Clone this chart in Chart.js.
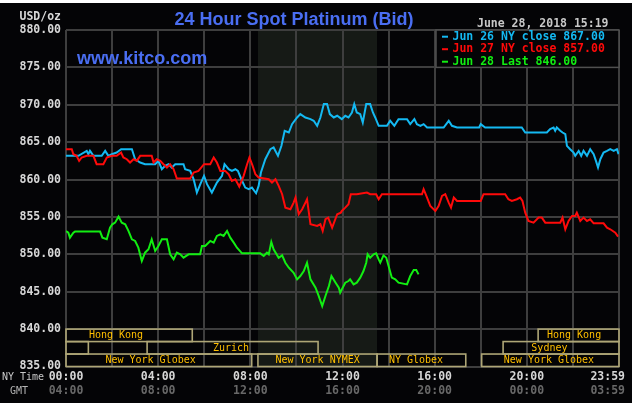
<!DOCTYPE html>
<html><head><meta charset="utf-8">
<script src="https://cdn.jsdelivr.net/npm/chart.js@4"></script>
<style>html,body{margin:0;padding:0;background:#040406;}canvas{display:block}</style>
</head><body>
<canvas id="c" width="632" height="403"></canvas>
<script>
// ---- data (hours since 00:00 NY time, price USD/oz) ----
const jun26Hours = [0,0.54,0.90,0.97,1.04,1.19,1.55,1.70,1.84,1.99,2.20,2.39,2.86,3.00,3.22,3.43,3.87,4.01,4.16,4.30,4.45,4.59,4.74,5.10,5.17,5.39,5.54,5.68,5.83,5.99,6.12,6.33,6.55,6.77,6.88,7.06,7.20,7.35,7.46,7.61,7.78,7.93,8.07,8.25,8.36,8.46,8.65,8.87,9.01,9.20,9.35,9.49,9.67,9.81,10.03,10.17,10.39,10.61,10.75,10.90,11.04,11.19,11.33,11.45,11.62,11.77,11.97,12.12,12.26,12.41,12.51,12.62,12.77,12.88,13.03,13.20,13.32,13.42,13.57,13.93,14.07,14.25,14.43,14.80,14.94,15.12,15.23,15.38,15.52,15.67,16.39,16.61,16.75,16.97,17.93,18.00,18.19,19.78,19.93,20.87,21.01,21.16,21.23,21.30,21.45,21.55,21.67,21.74,21.88,22.03,22.10,22.25,22.36,22.46,22.61,22.75,22.90,23.00,23.09,23.19,23.33,23.48,23.62,23.77,23.91,23.98];
const jun26Prices = [863.17,863.17,863.84,863.39,863.84,863.17,863.17,863.84,863.17,863.39,863.62,864.06,864.06,862.72,862.28,862.05,862.05,862.50,861.38,861.83,862.05,861.61,862.05,862.05,861.38,861.16,860.04,858.26,859.38,860.49,859.38,858.26,859.60,860.49,862.05,861.38,861.16,861.38,861.16,860.04,858.93,858.71,858.93,858.17,859.15,860.94,862.72,864.06,864.29,863.17,864.51,866.52,866.29,867.41,868.30,868.75,868.30,868.08,867.86,867.19,868.30,870.09,870.09,868.75,868.30,868.53,868.08,868.53,868.30,868.97,870.09,868.97,868.75,867.63,870.09,870.09,868.97,868.30,867.19,867.19,867.86,867.19,868.08,868.08,867.41,868.08,867.41,867.19,867.41,866.96,866.96,867.86,867.19,866.96,866.96,867.41,866.96,866.96,866.29,866.29,866.74,866.96,866.52,866.96,866.52,866.29,866.07,864.51,864.06,863.62,863.17,863.84,863.17,863.84,863.17,864.06,863.39,862.50,861.61,862.72,863.62,863.84,864.06,863.84,864.06,863.39];

const jun27Hours = [0,0.25,0.32,0.46,0.57,0.68,0.90,1.19,1.33,1.62,1.77,1.99,2.20,2.39,2.49,2.64,2.78,2.93,3.07,3.22,3.72,3.80,3.94,4.09,4.23,4.38,4.52,4.67,4.81,5.39,5.54,5.75,5.99,6.26,6.41,6.55,6.70,6.91,7.06,7.20,7.35,7.52,7.71,7.86,7.96,8.10,8.22,8.36,8.80,8.94,9.09,9.23,9.38,9.52,9.74,9.88,9.96,10.10,10.25,10.39,10.46,10.61,10.90,11.04,11.14,11.26,11.38,11.55,11.77,11.93,11.97,12.12,12.26,12.36,12.62,13.06,13.20,13.46,13.57,13.71,15.45,15.52,15.64,15.81,16.03,16.17,16.32,16.46,16.61,16.71,16.83,16.97,17.93,18.00,18.12,19.06,19.20,19.35,19.57,19.71,19.81,19.93,20.07,20.29,20.51,20.65,20.80,21.45,21.55,21.67,21.81,21.96,22.10,22.17,22.32,22.46,22.61,22.75,22.90,23.33,23.48,23.62,23.84,23.96];
const jun27Prices = [864.06,864.06,863.39,863.17,862.50,862.95,863.17,863.17,862.05,862.05,862.95,863.17,863.17,863.62,862.95,862.72,862.28,862.72,862.50,863.17,863.17,862.28,862.72,862.50,862.05,861.61,862.05,861.38,860.13,860.13,860.94,861.16,862.05,862.05,862.95,862.28,861.16,861.16,860.71,859.82,860.04,859.06,860.49,862.05,862.95,861.83,860.71,860.27,860.04,859.60,860.04,859.15,858.04,856.25,856.03,856.92,857.59,855.36,856.03,856.92,857.37,854.02,853.79,854.02,853.13,854.69,854.91,853.57,855.36,855.58,855.80,856.25,856.70,858.04,858.04,858.26,858.04,858.04,857.37,858.04,858.04,858.71,857.81,856.47,855.80,856.47,857.81,858.04,856.92,856.25,857.59,857.14,857.14,857.14,858.04,858.04,857.37,857.14,857.37,857.59,857.14,855.58,854.46,854.24,854.91,854.91,854.24,854.24,854.91,853.35,854.46,855.13,855.13,855.58,854.46,854.91,854.46,854.69,854.15,854.15,853.57,853.35,852.90,852.37];

const jun28Hours = [0,0.10,0.17,0.32,0.39,1.48,1.58,1.77,1.91,2.01,2.13,2.28,2.42,2.57,2.71,2.86,3.00,3.14,3.29,3.43,3.58,3.72,3.87,4.01,4.16,4.38,4.52,4.67,4.81,4.96,5.10,5.32,5.82,5.90,6.04,6.26,6.41,6.55,6.70,6.84,6.99,7.13,7.28,7.42,7.64,8.43,8.58,8.72,8.80,8.91,9.01,9.23,9.38,9.52,9.67,9.88,10.03,10.17,10.32,10.46,10.61,10.83,10.97,11.12,11.26,11.41,11.52,11.70,11.84,11.90,11.97,12.12,12.26,12.33,12.48,12.62,12.77,12.91,13.03,13.09,13.20,13.35,13.46,13.57,13.64,13.78,13.90,14.00,14.14,14.29,14.43,14.80,14.94,15.09,15.20,15.30];
const jun28Prices = [853.13,852.90,852.23,852.90,853.04,853.04,852.23,852.01,853.57,854.02,854.24,855.04,854.24,854.02,853.13,852.01,851.79,850.89,849.11,850.22,850.67,852.01,850.45,851.12,852.01,852.01,850.00,849.33,850.22,850.00,849.55,850.00,850.00,851.12,851.12,851.79,851.56,852.46,852.68,852.46,853.13,852.23,851.56,850.89,850.13,850.13,849.78,850.22,850.00,851.65,850.67,849.55,849.87,848.88,848.21,847.54,846.65,847.10,847.77,848.88,846.65,845.54,844.42,843.08,844.42,845.76,847.10,846.21,845.54,844.87,845.31,846.21,846.43,846.65,845.98,846.21,846.88,847.77,848.88,850.00,849.55,850.00,850.13,849.33,848.88,849.87,849.55,848.44,846.88,846.65,846.21,845.98,847.10,847.90,847.90,847.32];

const seriesLabels = ['Jun 26 NY close', 'Jun 27 NY close', 'Jun 28 Last'];
const seriesCloses = [867.00, 857.00, 846.00];

const nyTimeLabels = ['00:00','04:00','08:00','12:00','16:00','20:00','23:59'];
const gmtTimeLabels = ['04:00','08:00','12:00','16:00','20:00','00:00','03:59'];
const timeLabelHours = [0, 4, 8, 12, 16, 20, 24];

const yMin = 835, yMax = 880, yStep = 5;
const nymexStart = 8.33, nymexEnd = 13.5;

const sessionNames      = ['Hong Kong','Hong Kong','','Zurich','Sydney','New York Globex','New York NYMEX','NY Globex','New York Globex'];
const sessionRows       = [0, 0, 1, 1, 1, 2, 2, 2, 2];
const sessionStarts     = [0, 20.49, 0, 3.52, 18.97, 0, 8.33, 13.5, 18.04];
const sessionEnds       = [5.48, 24, 0.97, 10.94, 24, 8.06, 13.5, 17.35, 24];
const sessionLabelHours = [2.17, 22.05, 0, 7.16, 20.98, 3.67, 10.92, 15.19, 20.96];

const titleText = '24 Hour Spot Platinum (Bid)';
const dateText = 'June 28, 2018 15:19';
const unitText = 'USD/oz';
const siteText = 'www.kitco.com';

// ---- styles ----
const colors = ['#14b9f2', '#ff0a0a', '#12ee12'];
const MONO = '"DejaVu Sans Mono", "Liberation Mono", monospace';

const toPts = (hs, ps) => hs.map((h, i) => ({x: h, y: ps[i]}));

const kitcoPlugin = {
  id: 'kitco',
  beforeDraw(chart) {
    const {ctx, chartArea: a, scales: {x, y}} = chart;
    ctx.save();
    ctx.fillStyle = '#040406';
    ctx.fillRect(0, 0, chart.width, chart.height);
    ctx.fillStyle = '#ffffff';
    ctx.fillRect(0, 0, chart.width, 3);
    ctx.fillStyle = '#161a16';
    const x0 = x.getPixelForValue(nymexStart), x1 = x.getPixelForValue(nymexEnd);
    ctx.fillRect(x0, a.top, x1 - x0, a.bottom - a.top);
    ctx.restore();
  },
  beforeDatasetsDraw(chart) {
    const {ctx} = chart;
    ctx.save();
    ctx.fillStyle = '#4a6ef2';
    ctx.font = 'bold 18px "Liberation Sans", Arial, sans-serif';
    ctx.textBaseline = 'alphabetic';
    ctx.textAlign = 'left';
    ctx.fillText(siteText, 77, 64);
    ctx.restore();
  },
  afterDraw(chart) {
    const {ctx, chartArea: a, scales: {x, y}} = chart;
    ctx.save();
    // title
    ctx.fillStyle = '#4a6ef2';
    ctx.font = 'bold 18px "Liberation Sans", Arial, sans-serif';
    ctx.textAlign = 'center';
    ctx.textBaseline = 'alphabetic';
    ctx.fillText(titleText, 294, 25);
    // date
    ctx.fillStyle = '#c8c8c8';
    ctx.font = 'bold 11.5px ' + MONO;
    ctx.textAlign = 'left';
    ctx.fillText(dateText, 477, 26.5);
    // unit
    ctx.fillStyle = '#d8d8d8';
    ctx.textAlign = 'right';
    ctx.textBaseline = 'middle';
    ctx.fillText(unitText, 61, 17);
    // legend box
    const lx = a.right - 183, ly = a.top, lb = y.getPixelForValue(875);
    ctx.fillStyle = '#040406';
    ctx.fillRect(lx, ly, a.right - lx, lb - ly);
    ctx.strokeStyle = '#505050';
    ctx.lineWidth = 1.5;
    ctx.strokeRect(lx, ly, a.right - lx, lb - ly);
    ctx.textAlign = 'left';
    ctx.textBaseline = 'middle';
    ctx.font = 'bold 11.5px ' + MONO;
    seriesLabels.forEach((lab, i) => {
      const cy = ly + 6.7 + i * 12.5;
      ctx.fillStyle = colors[i];
      ctx.fillRect(lx + 6, cy - 1, 6, 2);
      ctx.fillText(lab + ' ' + seriesCloses[i].toFixed(2), lx + 16.5, cy);
    });
    // sessions
    const rowH = (yMax - yMin) / 9 * 1 ; // unused placeholder
    const rTop = r => y.getPixelForValue(yMin + yStep - r * yStep / 3);
    ctx.font = '10px ' + MONO;
    ctx.textAlign = 'center';
    sessionNames.forEach((nm, i) => {
      const r = sessionRows[i];
      const t = rTop(r), b = rTop(r + 1);
      const sx = x.getPixelForValue(sessionStarts[i]);
      const ex = x.getPixelForValue(sessionEnds[i]);
      ctx.strokeStyle = '#aea676';
      ctx.lineWidth = 1.6;
      ctx.strokeRect(sx, t, ex - sx, b - t);
      if (nm) {
        ctx.fillStyle = '#ffbf00';
        ctx.fillText(nm, x.getPixelForValue(sessionLabelHours[i]), (t + b) / 2 + 0.5);
      }
    });
    // x labels
    ctx.textBaseline = 'middle';
    ctx.font = '10px ' + MONO;
    ctx.fillStyle = '#c8c8c8';
    ctx.textAlign = 'center';
    ctx.fillText('NY Time', 23, 377.5);
    ctx.fillStyle = '#b4b4b4';
    ctx.fillText('GMT', 19, 391);
    ctx.font = 'bold 11.5px ' + MONO;
    timeLabelHours.forEach((h, i) => {
      let px = x.getPixelForValue(h);
      const w = ctx.measureText(nyTimeLabels[i]).width;
      if (px + w / 2 > chart.width - 7) px = chart.width - 7 - w / 2;
      ctx.fillStyle = '#d6d6d6';
      ctx.fillText(nyTimeLabels[i], px, 377.5);
      ctx.fillStyle = '#686868';
      ctx.fillText(gmtTimeLabels[i], px, 391);
    });
    ctx.restore();
  }
};

new Chart(document.getElementById('c'), {
  type: 'line',
  data: {
    datasets: [
      {label: seriesLabels[0], data: toPts(jun26Hours, jun26Prices), borderColor: colors[0], order: 3},
      {label: seriesLabels[1], data: toPts(jun27Hours, jun27Prices), borderColor: colors[1], order: 2},
      {label: seriesLabels[2], data: toPts(jun28Hours, jun28Prices), borderColor: colors[2], order: 1}
    ]
  },
  options: {
    responsive: false,
    animation: false,
    layout: {padding: {left: 0, right: 13, top: 30, bottom: 36.5}},
    elements: {point: {radius: 0}, line: {borderWidth: 2, tension: 0}},
    plugins: {legend: {display: false}, tooltip: {enabled: false}},
    scales: {
      x: {
        type: 'linear', min: 0, max: 24,
        ticks: {stepSize: 2, display: false},
        grid: {color: '#3e3e3e', lineWidth: 2, drawTicks: false},
        border: {display: false},
        afterFit: s => { s.height = 0; }
      },
      y: {
        min: yMin, max: yMax,
        ticks: {stepSize: yStep, padding: 5, color: '#d8d8d8',
          font: {family: MONO, size: 11.5, weight: 'bold'},
          callback: v => v.toFixed(2)},
        grid: {color: '#3e3e3e', lineWidth: 2, drawTicks: false},
        border: {display: false},
        afterFit: s => { s.width = 66; }
      }
    }
  },
  plugins: [kitcoPlugin]
});
</script>
</body></html>
